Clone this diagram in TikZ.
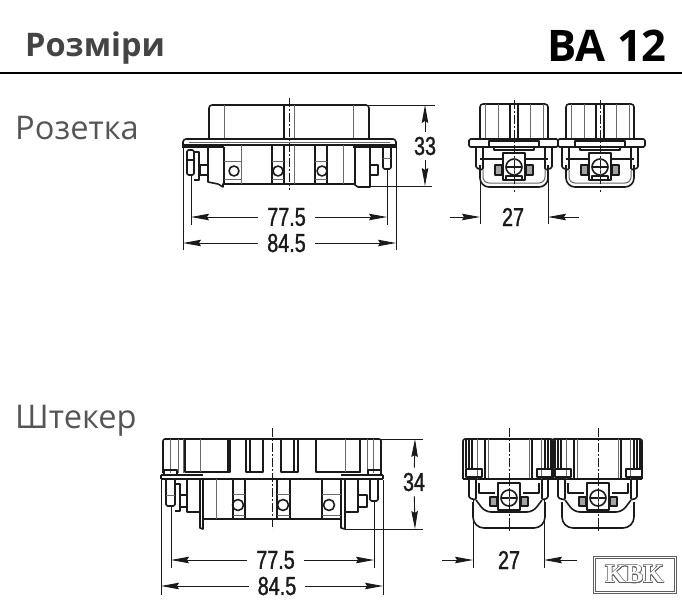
\documentclass[tikz,border=0pt]{standalone}
\usepackage{fontspec}
\usepackage[copies]{contour}
\usetikzlibrary{arrows.meta}
\setmainfont{Open Sans}
\newfontfamily\dimfont[FakeStretch=0.76,FakeBold=1.2]{Liberation Sans}
\definecolor{headgrey}{HTML}{444444}
\definecolor{labelgrey}{HTML}{555555}
\definecolor{inkline}{HTML}{1A1A1A}
\tikzset{
  part/.style={draw=inkline,line width=1.6pt,line join=round},
  thinpart/.style={draw=inkline!65,line width=1pt},
  axisline/.style={draw=inkline,line width=0.8pt,dash pattern=on 9pt off 2pt on 2pt off 2pt},
  extline/.style={draw=inkline,line width=0.9pt},
  dimline/.style={draw=inkline,line width=0.9pt,-{Stealth[length=18pt,width=6.5pt,inset=2pt]}},
  dimlabel/.style={text=inkline,font=\dimfont\fontsize{26}{26}\selectfont,inner ysep=0pt},
  sectionlabel/.style={text=labelgrey,anchor=base west,inner sep=0pt,font=\fontsize{32.6}{33}\selectfont}
}
\contourlength{0.55pt}
\begin{document}
\begin{tikzpicture}[x=1pt,y=1pt]
    \useasboundingbox (0,0) rectangle (682,-600);
    % header
    \node [anchor=base west,inner sep=0pt,text=headgrey,font=\bfseries\fontsize{32.5}{33}\selectfont] (title) at (25,-56) {Розміри};
    \node [anchor=base east,inner sep=0pt,text=black,font=\bfseries\fontsize{43.5}{44}\selectfont] (type) at (667,-61) {BA 12};
    \coordinate (ruleL) at (0,-73);
    \coordinate (ruleR) at (682,-73);
    \draw [black,line width=1.8pt] (ruleL) -- (ruleR);
    \node [sectionlabel] (socket) at (15,-139) {Розетка};
    \node [sectionlabel] (plug) at (15,-428) {Штекер};

    % socket, long side
    \draw [part,rounded corners=3pt] (209,-139) -- (209,-105) -- (369,-105) -- (369,-139);
    \draw [thinpart] (224,-105) -- (224,-139);
    \draw [thinpart] (353,-105) -- (353,-139);
    \draw [part] (284,-105) -- (284,-139);
    \draw [thinpart] (294,-105) -- (294,-139);
    \draw [part,rounded corners=1pt] (183,-147) -- (183,-141) -- (185,-139) -- (394,-139) -- (396,-141) -- (396,-147);
    \draw [part] (182,-147) -- (224,-147);
    \draw [part] (353,-147) -- (397,-147);
    \draw [part] (183,-145) -- (396,-145);
    \draw [thinpart] (189,-142.5) -- (390,-142.5);
    \draw [part] (208,-145) -- (208,-182) -- (218,-184) -- (223,-187) -- (223,-184) -- (355,-184);
    \draw [part] (355,-147) -- (355,-185) -- (358,-187) -- (370,-187) -- (370,-145);
    \draw [part] (224,-147) -- (224,-184);
    \draw [thinpart] (241,-145) -- (241,-184);
    \draw [part] (272,-145) -- (272,-184);
    \draw [part] (284,-145) -- (284,-184);
    \draw [thinpart] (294,-145) -- (294,-184);
    \draw [part] (315,-145) -- (315,-184);
    \draw [part] (327,-145) -- (327,-184);
    \draw [thinpart] (343,-145) -- (343,-184);
    \foreach \cx/\ca/\cb in {234/224/241,278/272/284,322/315/327} {
      \draw [part] (\cx,-171) circle (5);
      \draw [thinpart] (\ca,-161) -- (\cb,-161);
      \draw [thinpart] (\ca,-179) -- (\cb,-179);
    }
    \draw [part,rounded corners=1.5pt] (187,-150) rectangle (194,-175);
    \draw [part] (187,-160) -- (194,-160);
    \draw [part] (194,-152) -- (199,-152) -- (199,-180) -- (194,-180);
    \draw [part] (200,-165) rectangle (208,-175);
    \draw [part] (370,-165) rectangle (378,-175);
    \draw [part,rounded corners=1.5pt] (383,-147) -- (383,-169) -- (391,-169) -- (391,-147);
    \draw [thinpart] (383,-158) -- (391,-158);
    \draw [axisline] (289,-98) -- (289,-190);

    % socket, dimensions
    \coordinate (sExtLa) at (183,-147);
    \coordinate (sExtLb) at (183,-250);
    \coordinate (sExtRa) at (396,-147);
    \coordinate (sExtRb) at (396,-250);
    \draw [extline] (sExtLa) -- (sExtLb);
    \draw [extline] (sExtRa) -- (sExtRb);
    \coordinate (sPinLa) at (191,-175);
    \coordinate (sPinLb) at (191,-225);
    \coordinate (sPinRa) at (387,-169);
    \coordinate (sPinRb) at (387,-225);
    \draw [extline] (sPinLa) -- (sPinLb);
    \draw [extline] (sPinRa) -- (sPinRb);
    \node [dimlabel,inner xsep=9pt] (sWidthA) at (286.5,-217) {77.5};
    \draw [dimline] (sWidthA) -- (191,-217);
    \draw [dimline] (sWidthA) -- (387,-217);
    \node [dimlabel,inner xsep=9pt] (sWidthB) at (286.5,-243) {84.5};
    \draw [dimline] (sWidthB) -- (183,-243);
    \draw [dimline] (sWidthB) -- (396,-243);
    \coordinate (sTopA) at (369,-105);
    \coordinate (sTopB) at (435,-105);
    \coordinate (sLowA) at (370,-186);
    \coordinate (sLowB) at (432,-186);
    \draw [extline] (sTopA) -- (sTopB);
    \draw [extline] (sLowA) -- (sLowB);
    \node [dimlabel,inner ysep=5pt,inner xsep=0pt] (sHeight) at (425,-146) {33};
    \draw [dimline] (sHeight) -- (425,-105);
    \draw [dimline] (sHeight) -- (425,-186);

    % socket, short side
    \foreach \cx/\lft/\rgt in {514/-45/44,600/-42/45} {
      \begin{scope}[xshift=\cx]
        \draw [part,rounded corners=3pt] (-34,-139) -- (-34,-104) -- (34,-104) -- (34,-139);
        \foreach \vx in {-29,-16,16,29} { \draw [thinpart] (\vx,-104) -- (\vx,-139); }
        \draw [part] (-4,-104) -- (-4,-139);
        \draw [part] (4,-104) -- (4,-139);
        \draw [part,rounded corners=1.5pt] (\lft,-139) rectangle (\rgt,-147);
        \draw [part] (-25,-147) -- (-25,-141) -- (25,-141) -- (25,-147);
        \draw [part] (-20,-147) -- (-20,-150) -- (20,-150) -- (20,-147);
        \draw [part] (-34,-159) -- (-11,-159);
        \draw [part] (11,-159) -- (34,-159);
        \draw [part,rounded corners=1.5pt] (-38,-147) -- (-38,-168) -- (-31,-170) -- (-31,-147);
        \draw [part,rounded corners=1.5pt] (31,-147) -- (31,-170) -- (38,-168) -- (38,-147);
        \draw [part,rounded corners=9pt] (-34,-165) -- (-34,-187) -- (34,-187) -- (34,-165);
        \draw [thinpart,rounded corners=6pt] (-31,-170) -- (-31,-183) -- (31,-183) -- (31,-170);
        \draw [part,fill=white] (-11,-153) rectangle (11,-180);
        \draw [part] (-8,-180) -- (-8,-176) -- (8,-176) -- (8,-180);
        \draw [part] (0,-167) circle (8);
        \draw [part] (-7,-167) -- (7,-167);
        \draw [thinpart] (0,-159) -- (0,-175);
        \draw [part,fill=inkline!40] (-19,-165) rectangle (-12,-175);
        \draw [part,fill=inkline!40] (12,-165) rectangle (19,-175);
        \draw [axisline] (0,-100) -- (0,-192);
      \end{scope}
    }
    \coordinate (rExtLa) at (480,-170);
    \coordinate (rExtLb) at (480,-224);
    \coordinate (rExtRa) at (548,-170);
    \coordinate (rExtRb) at (548,-224);
    \draw [extline] (rExtLa) -- (rExtLb);
    \draw [extline] (rExtRa) -- (rExtRb);
    \node [dimlabel,inner sep=0pt] (rWidth) at (513,-217) {27};
    \coordinate (rArrL) at (450,-217);
    \coordinate (rTipL) at (480,-217);
    \coordinate (rArrR) at (579,-217);
    \coordinate (rTipR) at (548,-217);
    \draw [dimline] (rArrL) -- (rTipL);
    \draw [dimline] (rArrR) -- (rTipR);

    % plug, long side
    \draw [part,rounded corners=2pt] (163,-473) -- (163,-439) -- (381,-439) -- (381,-473);
    \foreach \vx in {170,178,183,360,367,373} { \draw [thinpart] (\vx,-439) -- (\vx,-473); }
    \draw [part] (185,-439) -- (185,-472) -- (230,-472) -- (230,-439);
    \draw [part] (228,-439) -- (228,-472);
    \draw [thinpart] (200,-439) -- (200,-472);
    \draw [part] (246,-439) -- (246,-472) -- (263,-472) -- (263,-439);
    \draw [part] (250,-439) -- (250,-472);
    \draw [part] (281,-439) -- (281,-472) -- (298,-472) -- (298,-439);
    \draw [part] (294,-439) -- (294,-472);
    \draw [part] (316,-439) -- (316,-472) -- (360,-472) -- (360,-439);
    \draw [thinpart] (345,-439) -- (345,-472);
    \draw [part] (161,-475) -- (203,-475);
    \draw [part] (341,-475) -- (383,-475);
    \draw [part] (161,-479) -- (383,-479);
    \draw [part] (161,-475) -- (161,-479);
    \draw [part] (383,-475) -- (383,-479);
    \draw [part] (203,-519) -- (341,-519);
    \draw [part] (200,-479) -- (200,-528) -- (203,-529) -- (203,-479);
    \draw [part] (341,-479) -- (341,-528) -- (345,-529) -- (345,-479);
    \draw [part] (187,-479) -- (187,-512) -- (200,-512);
    \draw [part] (345,-512) -- (358,-512) -- (358,-479);
    \draw [thinpart] (216,-479) -- (216,-519);
    \draw [part] (233,-479) -- (233,-519);
    \draw [part] (245,-479) -- (245,-519);
    \draw [part] (277,-479) -- (277,-519);
    \draw [part] (290,-479) -- (290,-519);
    \draw [part] (322,-479) -- (322,-519);
    \foreach \cx/\ca/\cb in {238/233/245,283/277/290,329/322/341} {
      \draw [part] (\cx,-505) circle (5.5);
      \draw [thinpart] (\ca,-494) -- (\cb,-494);
      \draw [thinpart] (\ca,-515) -- (\cb,-515);
    }
    \draw [part] (164,-470) rectangle (177,-475);
    \draw [part] (368,-470) rectangle (381,-475);
    \draw [part,rounded corners=1.5pt] (166,-479) -- (166,-506) -- (175,-506) -- (175,-479);
    \draw [thinpart] (166,-495) -- (175,-495);
    \draw [part] (175,-484) -- (180,-484) -- (180,-511) -- (175,-511);
    \draw [part] (180,-495) rectangle (187,-507);
    \draw [part] (358,-495) rectangle (367,-507);
    \draw [part,rounded corners=1.5pt] (370,-479) -- (370,-501) -- (378,-501) -- (378,-479);
    \draw [axisline] (272,-428) -- (272,-529);

    % plug, dimensions
    \coordinate (pExtLa) at (161,-480);
    \coordinate (pExtLb) at (161,-595);
    \coordinate (pExtRa) at (383,-480);
    \coordinate (pExtRb) at (383,-595);
    \draw [extline] (pExtLa) -- (pExtLb);
    \draw [extline] (pExtRa) -- (pExtRb);
    \coordinate (pPinLa) at (171,-506);
    \coordinate (pPinLb) at (171,-568);
    \coordinate (pPinRa) at (374,-501);
    \coordinate (pPinRb) at (374,-568);
    \draw [extline] (pPinLa) -- (pPinLb);
    \draw [extline] (pPinRa) -- (pPinRb);
    \node [dimlabel,inner xsep=9pt] (pWidthA) at (275.5,-560) {77.5};
    \draw [dimline] (pWidthA) -- (171,-560);
    \draw [dimline] (pWidthA) -- (374,-560);
    \node [dimlabel,inner xsep=9pt] (pWidthB) at (277,-586) {84.5};
    \draw [dimline] (pWidthB) -- (161,-586);
    \draw [dimline] (pWidthB) -- (383,-586);
    \coordinate (pTopA) at (381,-439);
    \coordinate (pTopB) at (423,-439);
    \coordinate (pLowA) at (345,-529);
    \coordinate (pLowB) at (423,-529);
    \draw [extline] (pTopA) -- (pTopB);
    \draw [extline] (pLowA) -- (pLowB);
    \node [dimlabel,inner ysep=5pt,inner xsep=0pt] (pHeight) at (414,-482) {34};
    \draw [dimline] (pHeight) -- (415,-439);
    \draw [dimline] (pHeight) -- (415,-529);

    % plug, short side
    \foreach \cx in {509,598} {
      \begin{scope}[xshift=\cx]
        \draw [part,rounded corners=2pt] (-46,-479) -- (-46,-439) -- (44,-439) -- (44,-479);
        \draw [part] (-46,-479) -- (44,-479);
        \foreach \vx in {-43,-40,-37,36,39,42} { \draw [part] (\vx,-440) -- (\vx,-468); }
        \foreach \vx in {-32,32} { \draw [thinpart] (\vx,-439) -- (\vx,-479); }
        \draw [part] (-24,-439) -- (-24,-478);
        \draw [part] (23,-439) -- (23,-478);
        \draw [thinpart] (-21,-439) -- (-21,-478);
        \draw [thinpart] (20,-439) -- (20,-478);
        \draw [part] (-43,-469) rectangle (-27,-477);
        \draw [part] (28,-469) rectangle (44,-477);
        \draw [part,rounded corners=1.5pt] (-40,-479) -- (-40,-498) -- (-33,-500) -- (-33,-479);
        \draw [part,rounded corners=1.5pt] (33,-479) -- (33,-500) -- (39,-498) -- (39,-479);
        \draw [part] (-30,-483) -- (-30,-493) -- (-14,-493);
        \draw [part] (30,-483) -- (30,-493) -- (14,-493);
        \draw [part,rounded corners=6pt] (-33,-500) -- (-24,-512) -- (24,-512) -- (33,-500);
        \draw [part,rounded corners=11pt] (-36,-502) -- (-36,-528) -- (36,-528) -- (36,-502);
        \draw [part,fill=white] (-11,-483) rectangle (11,-510);
        \draw [part] (0,-498) circle (8);
        \draw [part] (-7,-498) -- (7,-498);
        \draw [thinpart] (0,-490) -- (0,-506);
        \draw [part,fill=inkline!40] (-19,-497) rectangle (-12,-506);
        \draw [part,fill=inkline!40] (12,-497) rectangle (19,-506);
        \draw [axisline] (0,-428) -- (0,-533);
      \end{scope}
    }
    \coordinate (qExtLa) at (473,-500);
    \coordinate (qExtLb) at (473,-568);
    \coordinate (qExtRa) at (544,-500);
    \coordinate (qExtRb) at (544,-568);
    \draw [extline] (qExtLa) -- (qExtLb);
    \draw [extline] (qExtRa) -- (qExtRb);
    \node [dimlabel,inner sep=0pt] (qWidth) at (509,-560) {27};
    \coordinate (qArrL) at (442,-560);
    \coordinate (qTipL) at (473,-560);
    \coordinate (qArrR) at (577,-560);
    \coordinate (qTipR) at (544,-560);
    \draw [dimline] (qArrL) -- (qTipL);
    \draw [dimline] (qArrR) -- (qTipR);

    % logo
    \node [draw=inkline!70,line width=0.7pt,minimum width=83pt,minimum height=37pt,inner sep=0pt] (logoOuter) at (634.5,-574.5) {};
    \node [draw=inkline!70,line width=0.7pt,minimum width=79pt,minimum height=33pt,inner sep=0pt,
      font=\fontsize{26.5}{27}\selectfont] (logo) at (634.5,-574.5)
      {\setmainfont{Liberation Serif}\bfseries\contour{inkline!70}{\textcolor{white}{KBK}}};
\end{tikzpicture}
\end{document}
